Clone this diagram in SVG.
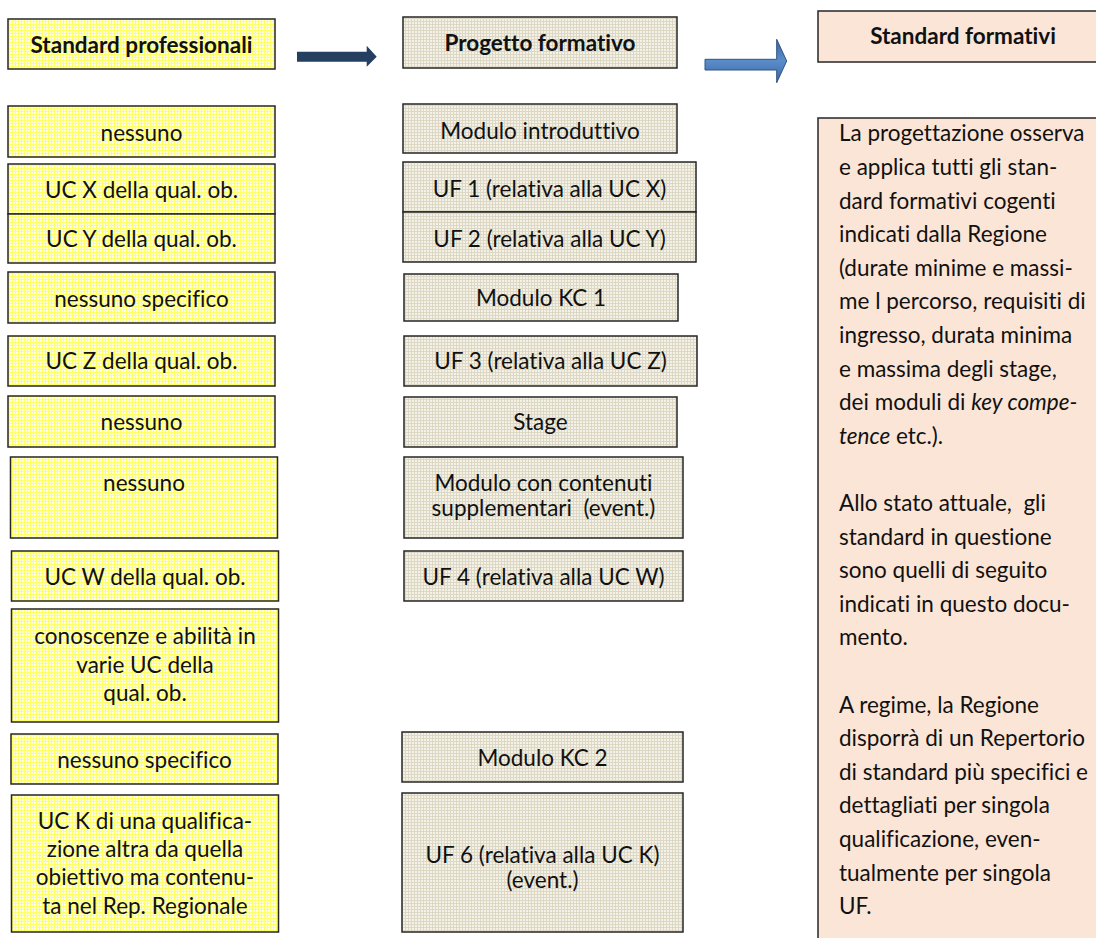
<svg xmlns="http://www.w3.org/2000/svg" width="1096" height="938" viewBox="0 0 1096 938">
<style>
text{font-family:Lato,"Liberation Sans",sans-serif;font-size:22.5px;fill:#111;font-variant-ligatures:none;}
.c{text-anchor:middle;}
.b{font-weight:bold;}
.pre{white-space:pre;}
.ly{fill:url(#py);stroke:#262626;stroke-width:1.5;}
.mb{fill:url(#pb);stroke:#262626;stroke-width:1.5;}
.pk{fill:#FBE5D6;stroke:#262626;stroke-width:1.5;}
</style>
<defs>
<pattern id="py" width="3" height="3" patternUnits="userSpaceOnUse">
<rect width="3" height="3" fill="#FFFFE2"/>
<path d="M0 0.5H3M0.5 0V3" stroke="#FFFF66" stroke-width="1"/>
</pattern>
<pattern id="pb" width="3" height="3" patternUnits="userSpaceOnUse">
<rect width="3" height="3" fill="#F3F1E8"/>
<path d="M0 0.5H3M0.5 0V3" stroke="#DCD8C4" stroke-width="1"/>
</pattern>
<linearGradient id="ag" x1="0" y1="0" x2="0" y2="1">
<stop offset="0" stop-color="#3A669C"/>
<stop offset="0.5" stop-color="#5B8CCB"/>
<stop offset="1" stop-color="#3A669C"/>
</linearGradient>
</defs>
<rect width="1096" height="938" fill="#fff"/>

<g id="left-header"><rect class="ly" x="8" y="19" width="267" height="50"/><text class="c b" x="141.5" y="52.5">Standard professionali</text></g>
<g id="l1"><rect class="ly" x="8" y="106" width="267" height="51"/><text class="c" x="141.5" y="141">nessuno</text></g>
<g id="l2"><rect class="ly" x="8" y="164" width="267" height="50"/><text class="c" x="141.5" y="198">UC X della qual. ob.</text></g>
<g id="l3"><rect class="ly" x="8" y="214" width="267" height="49"/><text class="c" x="141.5" y="247">UC Y della qual. ob.</text></g>
<g id="l4"><rect class="ly" x="8" y="272" width="267" height="51"/><text class="c" x="141.5" y="306.5">nessuno specifico</text></g>
<g id="l5"><rect class="ly" x="8" y="336" width="267" height="50"/><text class="c" x="141.5" y="369">UC Z della qual. ob.</text></g>
<g id="l6"><rect class="ly" x="8" y="396" width="267" height="51"/><text class="c" x="141.5" y="430">nessuno</text></g>
<g id="l7"><rect class="ly" x="10.5" y="457" width="267" height="81"/><text class="c" x="144" y="491">nessuno</text></g>
<g id="l8"><rect class="ly" x="11.5" y="551" width="267" height="50"/><text class="c" x="145" y="584.5">UC W della qual. ob.</text></g>
<g id="l9"><rect class="ly" x="11.5" y="609" width="267" height="113"/><text class="c" x="145" y="643.5">conoscenze e abilità in</text><text class="c" x="145" y="672.5">varie UC della</text><text class="c" x="145" y="701">qual. ob.</text></g>
<g id="l10"><rect class="ly" x="11" y="734" width="267" height="50"/><text class="c" x="144.5" y="767.5">nessuno specifico</text></g>
<g id="l11"><rect class="ly" x="11.5" y="795" width="267" height="137"/><text class="c" x="145" y="828.5">UC K di una qualifica-</text><text class="c" x="145" y="857">zione altra da quella</text><text class="c" x="145" y="885">obiettivo ma contenu-</text><text class="c" x="145" y="913.5">ta nel Rep. Regionale</text></g>

<g id="mid-header"><rect class="mb" x="403" y="17" width="274" height="51"/><text class="c b" x="540" y="50.5">Progetto formativo</text></g>
<g id="m1"><rect class="mb" x="403" y="104" width="274" height="49"/><text class="c" x="540" y="139">Modulo introduttivo</text></g>
<g id="m2"><rect class="mb" x="403" y="162" width="293" height="50"/><text class="c" x="549.5" y="196.7">UF 1 (relativa alla UC X)</text></g>
<g id="m3"><rect class="mb" x="403" y="212" width="293" height="50"/><text class="c" x="549.5" y="246.7">UF 2 (relativa alla UC Y)</text></g>
<g id="m4"><rect class="mb" x="404" y="274" width="274" height="47"/><text class="c" x="541" y="306">Modulo KC 1</text></g>
<g id="m5"><rect class="mb" x="404" y="336" width="293" height="50"/><text class="c" x="550.5" y="369">UF 3 (relativa alla UC Z)</text></g>
<g id="m6"><rect class="mb" x="404" y="397" width="273" height="50"/><text class="c" x="540.5" y="430">Stage</text></g>
<g id="m7"><rect class="mb" x="404" y="457" width="279" height="81"/><text class="c" x="543.5" y="491">Modulo con contenuti</text><text class="c pre" x="543.5" y="516">supplementari  (event.)</text></g>
<g id="m8"><rect class="mb" x="404" y="551" width="279" height="50"/><text class="c" x="543.5" y="584.5">UF 4 (relativa alla UC W)</text></g>
<g id="m9"><rect class="mb" x="402" y="732" width="281" height="50"/><text class="c" x="542.5" y="766">Modulo KC 2</text></g>
<g id="m10"><rect class="mb" x="402" y="793" width="281" height="139"/><text class="c" x="542.5" y="863">UF 6 (relativa alla UC K)</text><text class="c" x="542.5" y="888">(event.)</text></g>

<g id="right-header"><rect class="pk" x="818" y="11" width="292" height="51"/><text class="c b" x="963" y="44.3">Standard formativi</text></g>
<g id="right-panel"><rect class="pk" x="818" y="118" width="292" height="840"/>
<text x="839" y="141.4">La progettazione osserva</text>
<text x="839" y="175">e applica tutti gli stan-</text>
<text x="839" y="208.6">dard formativi cogenti</text>
<text x="839" y="242.2">indicati dalla Regione</text>
<text x="839" y="275.8">(durate minime e massi-</text>
<text x="839" y="309.4">me l percorso, requisiti di</text>
<text x="839" y="343">ingresso, durata minima</text>
<text x="839" y="376.6">e massima degli stage,</text>
<text x="839" y="410.2">dei moduli di <tspan font-style="italic">key compe-</tspan></text>
<text x="839" y="443.8"><tspan font-style="italic">tence</tspan> etc.).</text>
<text class="pre" x="839" y="511">Allo stato attuale,  gli</text>
<text x="839" y="544.6">standard in questione</text>
<text x="839" y="578.2">sono quelli di seguito</text>
<text x="839" y="611.8">indicati in questo docu-</text>
<text x="839" y="645.4">mento.</text>
<text x="839" y="712.6">A regime, la Regione</text>
<text x="839" y="746.2">disporrà di un Repertorio</text>
<text x="839" y="779.8">di standard più specifici e</text>
<text x="839" y="813.4">dettagliati per singola</text>
<text x="839" y="847">qualificazione, even-</text>
<text x="839" y="880.6">tualmente per singola</text>
<text x="839" y="914.2">UF.</text>
</g>

<g id="connectors">
<polygon points="297,51.7 366.7,51.7 366.7,45.7 376.7,56.7 366.7,66.7 366.7,61.7 297,61.7" fill="#243F60"/>
<polygon points="705,59.3 776.7,59.3 776.7,39.3 786.7,61 776.7,82.7 776.7,70 705,70" fill="url(#ag)" stroke="#2F5486" stroke-width="1"/>
</g>
</svg>
